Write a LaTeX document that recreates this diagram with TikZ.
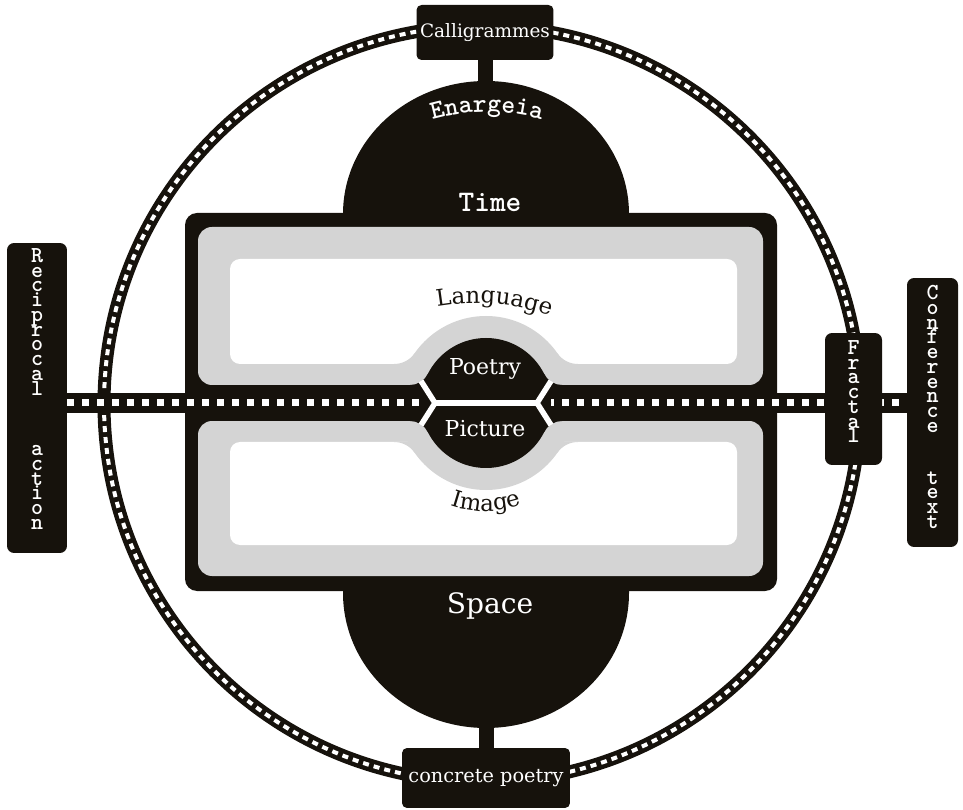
\documentclass[tikz,border=0pt]{standalone}
\usepackage{fontspec}
\newfontfamily\serifdv{DejaVu Serif}
\definecolor{ink}{HTML}{16120C}
\definecolor{mlgray}{HTML}{D4D4D4}
\usetikzlibrary{decorations.text}

\begin{document}
\begin{tikzpicture}[
  x=0.02cm, y=0.02cm,
  filmring/.style={draw=ink,line width=0.26cm},
  ringholes/.style={draw=white,line width=0.08cm,dash pattern=on 0.12cm off 0.1cm},
  filmbar/.style={draw=ink,line width=0.42cm},
  barholes/.style={draw=white,line width=0.14cm,dash pattern=on 0.14cm off 0.16cm},
  stem/.style={draw=ink,line width=0.3cm},
  tagbox/.style={fill=ink,rounded corners=0.1cm,text=white,inner sep=0pt,
                 font=\serifdv\fontsize{10.5pt}{12pt}\selectfont},
  vertbox/.style={fill=ink,rounded corners=0.14cm,inner sep=0pt},
  verttext/.style={text=white,align=center,inner sep=0pt,anchor=north,
                   font={\ttfamily\bfseries\fontsize{13pt}{8.4pt}\selectfont\lineskiplimit=-\maxdimen}},
  cut/.style={draw=white,line width=0.11cm},
  label/.style={text=white,anchor=base,inner sep=0pt},
]
  \useasboundingbox (0,0) rectangle (963,-810);
  \coordinate (hub) at (486,-403);

  % film ring
  \draw[filmring] (482,-404) circle[radius=378];
  \draw[ringholes] (482,-404) circle[radius=378];

  % top and bottom tags
  \node[tagbox,minimum width=2.74cm,minimum height=1.1cm] (calli) at (485,-32.5) {Calligrammes};
  \node[tagbox,minimum width=3.36cm,minimum height=1.2cm,
        font=\serifdv\fontsize{11pt}{13pt}\selectfont] (concrete) at (486,-778) {concrete poetry};

  % Time and Space domes
  \fill[ink] (343,-214) arc[start angle=180,end angle=0,x radius=143,y radius=133] -- cycle;
  \fill[ink] (343,-590) -- (343,-593) arc[start angle=180,end angle=360,x radius=143,y radius=135]
    -- (629,-590) -- cycle;
  \coordinate (timetop) at (486,-90);
  \coordinate (spacebottom) at (486,-720);
  \draw[stem] (calli.south) -- (calli.south |- timetop);
  \draw[stem] (concrete.north) -- (concrete.north |- spacebottom);

  % main frame
  \fill[ink,rounded corners=0.24cm] (185,-213) rectangle (777,-591);
  \fill[mlgray,rounded corners=0.28cm] (198,-227) rectangle (763,-385);
  \fill[mlgray,rounded corners=0.28cm] (198,-421) rectangle (763,-576);
  \fill[white,rounded corners=0.2cm] (230,-259) rectangle (737,-364);
  \fill[white,rounded corners=0.2cm] (230,-442) rectangle (737,-545);
  \fill[mlgray] (hub) circle[radius=87];
  \foreach \sx/\sy in {1/1,-1/1,1/-1,-1/-1}{
    \fill[mlgray,shift={(hub)},xscale=\sx,yscale=\sy]
      (-91.9,39) arc[start angle=270,end angle=325.15,radius=25] -- (-40,39) -- cycle;
  }
  \fill[ink] (198,-385) rectangle (763,-421);

  % side tags
  \node[vertbox,minimum width=1.2cm,minimum height=6.2cm] (recip) at (37,-398) {};
  \node[verttext] (reciptext) at (37,-248)
    {R\\e\\c\\i\\p\\r\\o\\c\\a\\l\\[26pt]a\\c\\t\\i\\o\\n};
  \node[vertbox,minimum width=1.02cm,minimum height=5.38cm] (conf) at (932.5,-412.5) {};
  \node[verttext] (conftext) at (932.5,-285)
    {C\\o\\n\\f\\e\\r\\e\\n\\c\\e\\[21pt]t\\e\\x\\t};

  % film bar
  \draw[filmbar] (recip.east |- hub) -- (conf.west |- hub);
  \draw[barholes] (recip.east |- hub) -- (conf.west |- hub);

  % Poetry / Picture core
  \fill[ink] (hub) circle[radius=65];
  \foreach \sx/\sy in {1/1,-1/1,1/-1,-1/-1}{
    \fill[ink,shift={(hub)},xscale=\sx,yscale=\sy]
      (-76,18) arc[start angle=270,end angle=333.43,radius=20] -- (-30,18) -- cycle;
  }
  \begin{scope}[shift={(hub)}]
    \draw[cut] (-51,0) -- (51,0);
    \draw[cut] (-65,22) -- (-51,0) -- (-65,-22);
    \draw[cut] (65,22) -- (51,0) -- (65,-22);
  \end{scope}

  \node[vertbox,minimum width=1.14cm,minimum height=2.64cm] (fractal) at (853.5,-399) {};
  \node[verttext] (fractaltext) at (853.5,-340) {F\\r\\a\\c\\t\\a\\l};

  % labels
  \node[label,font=\ttfamily\bfseries\fontsize{17pt}{20pt}\selectfont] (time) at (490,-212) {Time};
  \node[label,font=\serifdv\fontsize{16pt}{19pt}\selectfont] (space) at (490,-613) {Space};
  \node[label,font=\serifdv\fontsize{12.5pt}{14pt}\selectfont] (poetry) at (485,-375) {Poetry};
  \node[label,font=\serifdv\fontsize{12.5pt}{14pt}\selectfont] (picture) at (485,-437) {Picture};

  \path[decorate,decoration={text along path,text align=center,
      text={|\ttfamily\bfseries\fontsize{15pt}{18pt}\selectfont\color{white}|Enargeia}}]
    (487,-312) ++(115:200) arc[start angle=115,end angle=65,radius=200];
  \path[decorate,decoration={text along path,text align=center,
      text={|\serifdv\fontsize{13pt}{15pt}\selectfont\color{ink}|Language}}]
    (475,-523) ++(110:220) arc[start angle=110,end angle=60,radius=220];
  \path[decorate,decoration={text along path,text align=center,
      text={|\serifdv\fontsize{13pt}{15pt}\selectfont\color{ink}|Image}}]
    (hub) ++(240:108) arc[start angle=240,end angle=300,radius=108];
\end{tikzpicture}
\end{document}
